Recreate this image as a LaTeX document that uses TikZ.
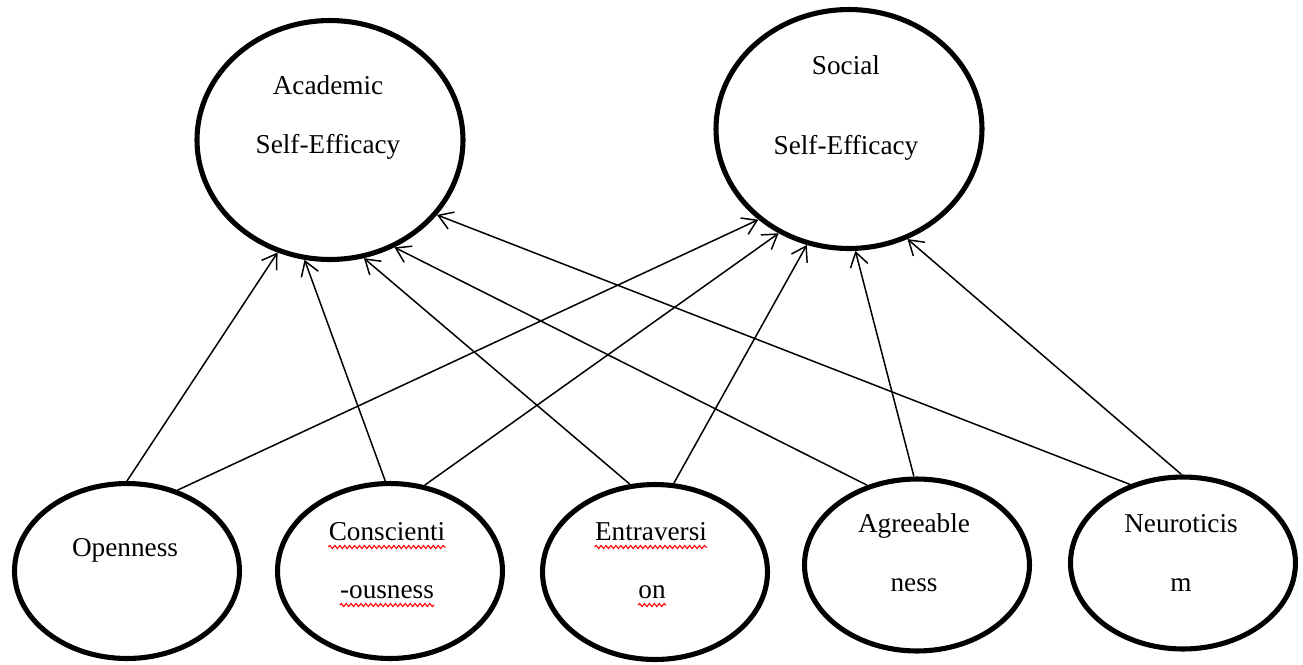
\documentclass[tikz,border=0pt]{standalone}
\usepackage{fontspec}
\setmainfont{Liberation Serif}
\usetikzlibrary{arrows.meta,shapes.geometric,decorations.pathmorphing}

\begin{document}
\begin{tikzpicture}[
  x=0.02cm, y=-0.02cm,
  factor/.style={draw, ellipse, line width=2.9pt, minimum width=4.5cm, minimum height=3.5cm},
  selfeff/.style={factor, minimum width=5.32cm, minimum height=4.78cm},
  txt/.style={font=\fontsize{15.5}{33.5}\selectfont, align=center, anchor=base, inner xsep=0pt},
  arr/.style={-{Straight Barb[length=2.8mm,width=3.6mm]}, line width=0.85pt},
  spellmark/.style={red, line width=0.6pt, decorate, decoration={snake, amplitude=0.9pt, segment length=2.8pt}},
]
  \useasboundingbox (0,0) rectangle (1303,664);

  % Outcomes
  \node[selfeff] (acad) at (330,140) {};
  \node[selfeff] (soc) at (849,129) {};
  \node[txt] (acadlbl) at (328,153) {Academic\\Self-Efficacy};
  \node[txt] (soclbl) at (846,154) {Social\\[12pt]Self-Efficacy};

  % Traits
  \node[factor] (open) at (127,571) {};
  \node[factor] (consc) at (390,571) {};
  \node[factor] (entr) at (655,572) {};
  \node[factor, minimum height=3.44cm] (agree) at (917,565) {};
  \node[factor, minimum height=3.44cm] (neuro) at (1183,563) {};
  \node[txt] (openlbl) at (125,556) {Openness};
  \node[txt] (consclbl) at (387,540) {Conscienti};
  \node[txt] (conscsub) at (387,598) {-ousness};
  \node[txt] (entrlbl) at (651,540) {Entraversi};
  \node[txt] (entrsub) at (652,598) {on};
  \node[txt] (agreelbl) at (914,591) {Agreeable\\ness};
  \node[txt] (neurolbl) at (1181,591) {Neuroticis\\m};

  % spell-check marks
  \draw[spellmark] ([yshift=-4pt]consclbl.base west) -- ([yshift=-4pt]consclbl.base east);
  \draw[spellmark] ([yshift=-4pt]conscsub.base west) -- ([yshift=-4pt]conscsub.base east);
  \draw[spellmark] ([yshift=-4pt]entrlbl.base west) -- ([yshift=-4pt]entrlbl.base east);
  \draw[spellmark] ([yshift=-4pt]entrsub.base west) -- ([yshift=-4pt]entrsub.base east);

  % Paths
  \draw[arr] (open.90) -- (acad.245);
  \draw[arr] (open.58) -- (soc.225);
  \draw[arr] (consc.93) -- (acad.258);
  \draw[arr] (consc.68) -- (soc.236);
  \draw[arr] (entr.106) -- (acad.286);
  \draw[arr] (entr.78) -- (soc.250);
  \draw[arr] (agree.122) -- (acad.301);
  \draw[arr] (agree.92) -- (soc.273);
  \draw[arr] (neuro.124) -- (acad.325);
  \draw[arr] (neuro.91) -- (soc.298);
\end{tikzpicture}
\end{document}
